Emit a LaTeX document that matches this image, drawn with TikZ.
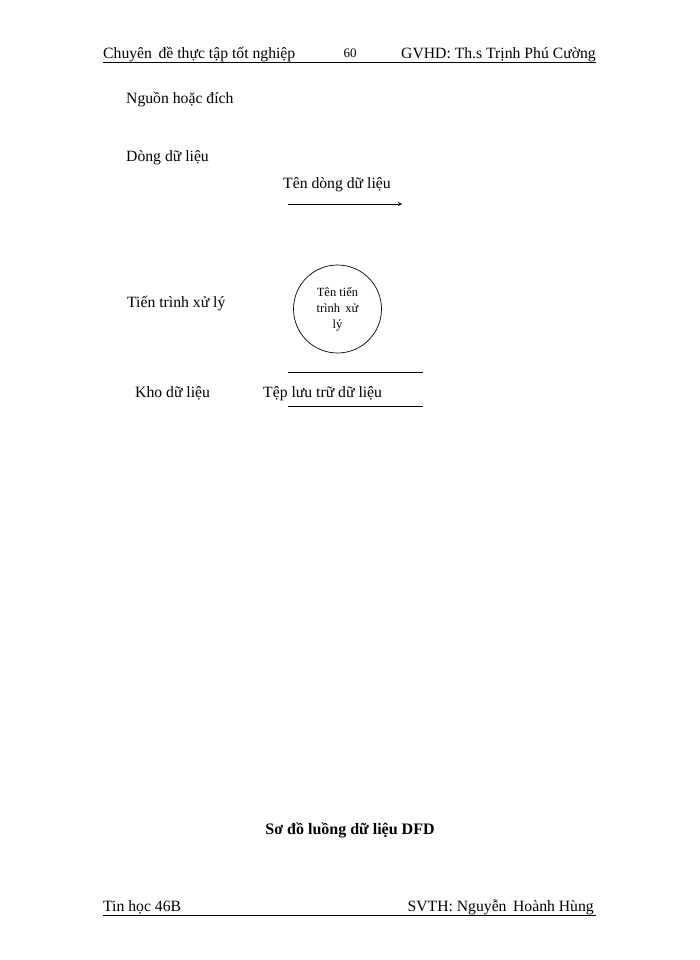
\documentclass[tikz,border=0pt]{standalone}
\usepackage{fontspec}
\setmainfont{Liberation Serif}
\begin{document}
\begin{tikzpicture}[x=1pt,y=-1pt]
	      \tikzstyle{every node}=[font=\fontsize{15.7}{19}\selectfont,inner sep=0pt]
	      \tikzstyle{label}=[anchor=base west]
	      \useasboundingbox (0,0) rectangle (700,960);
	      % header
	      \node[label] (hdrL) at (103,59) {Chuyên\, đề thực tập tốt nghiệp};
	      \node[anchor=base,font=\fontsize{13}{15}\selectfont] (page) at (350,58) {60};
	      \node[anchor=base east] (hdrR) at (596,59) {GVHD: Th.s Trịnh Phú Cường};
	      \coordinate (hdrA) at (103,62);
	      \coordinate (hdrB) at (596,62);
	      \draw[line width=0.8pt] (hdrA)--(hdrB);
	      % symbols
	      \node[label] (src) at (126,104) {Nguồn hoặc đích};
	      \node[label] (flow) at (126,162) {Dòng dữ liệu};
	      \node[label] (flowName) at (283,189) {Tên dòng dữ liệu};
	      \coordinate (flowA) at (288,204);
	      \coordinate (flowB) at (402,204);
	      \draw[line width=0.8pt,-stealth] (flowA)--(flowB);
	      \node[label] (proc) at (127,307) {Tiến trình xử lý};
	      \node[draw,circle,line width=0.7pt,minimum size=88pt,align=center,
	            font=\fontsize{12.5}{16}\selectfont] (procName) at (337.5,309) {Tên tiến\\trình\, xử\\lý};
	      \node[label] (store) at (135,397) {Kho dữ liệu};
	      \node[label] (storeName) at (263,397) {Tệp lưu trữ dữ liệu};
	      \coordinate (storeA) at (288,372.5);
	      \coordinate (storeB) at (423,372.5);
	      \coordinate (storeC) at (288,406);
	      \coordinate (storeD) at (423,406);
	      \draw[line width=0.8pt] (storeA)--(storeB);
	      \draw[line width=0.8pt] (storeC)--(storeD);
	      % caption
	      \node[anchor=base,font=\fontsize{16}{19}\selectfont\bfseries] (caption) at (350,834) {Sơ đồ luồng dữ liệu DFD};
	      % footer
	      \node[label] (ftrL) at (103,911) {Tin học 46B};
	      \node[anchor=base east] (ftrR) at (594,911) {SVTH: Nguyễn\, Hoành Hùng};
	      \coordinate (ftrA) at (103,915);
	      \coordinate (ftrB) at (596,915);
	      \draw[line width=0.8pt] (ftrA)--(ftrB);
	    \end{tikzpicture}
\end{document}
